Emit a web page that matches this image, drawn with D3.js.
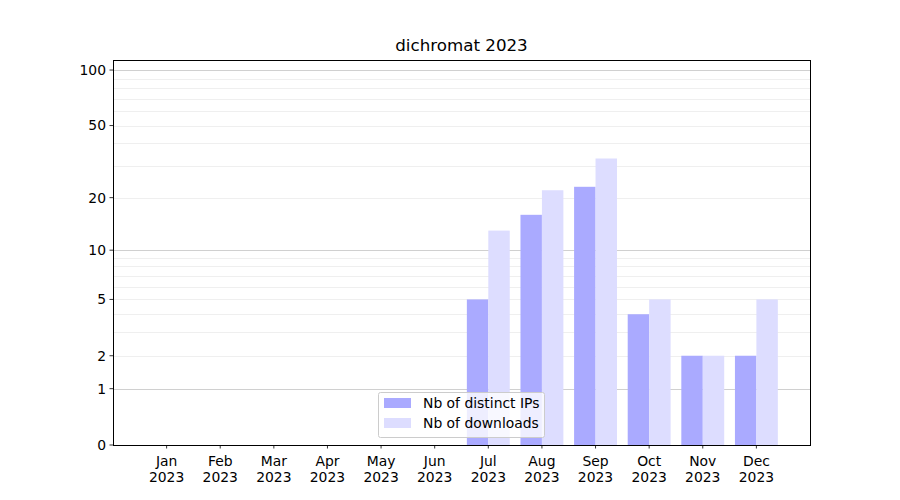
<!DOCTYPE html>
<html><head><meta charset="utf-8">
<script src="https://cdn.jsdelivr.net/npm/d3@7"></script>
<style>body{margin:0;background:#fff;} text{font-family:"DejaVu Sans",sans-serif;}</style>
</head><body><svg id="c" width="900" height="500"></svg>
<script>
const months = ["Jan","Feb","Mar","Apr","May","Jun","Jul","Aug","Sep","Oct","Nov","Dec"];
const year = "2023";
const ips = [0,0,0,0,0,0,5,16,23,4,2,2];
const downloads = [0,0,0,0,0,0,13,22,33,5,2,5];
const yTicks = [0,1,2,5,10,20,50,100];
const majorGrid = [1,10,100];
const minorGrid = [2,3,4,5,6,7,8,9,20,30,40,50,60,70,80,90];
const title = "dichromat 2023";
const seriesNames = ["Nb of distinct IPs","Nb of downloads"];
const colors = ["#aaaaff","#ddddff"];

const L=113,R=810,T=60,B=445;
const svg=d3.select("#c");
const x=d3.scaleLinear().domain([0,13]).range([L,R]);
const tf=v=>Math.log10(v+1);
const ty=d3.scaleLinear().domain([0,2.058]).range([B,T]);
const y=v=>ty(tf(v));

svg.append("g").selectAll("line").data(minorGrid).join("line")
 .attr("x1",L).attr("x2",R).attr("y1",d=>Math.round(y(d))+0.5).attr("y2",d=>Math.round(y(d))+0.5)
 .attr("stroke","#ebebeb").attr("stroke-width",0.8);
svg.append("g").selectAll("line").data(majorGrid).join("line")
 .attr("x1",L).attr("x2",R).attr("y1",d=>Math.round(y(d))+0.5).attr("y2",d=>Math.round(y(d))+0.5)
 .attr("stroke","#c4c4c4").attr("stroke-width",0.8);

const bw=0.4;
svg.append("g").selectAll("rect").data(ips).join("rect")
 .attr("x",(d,i)=>x(i+1-bw)).attr("width",x(bw)-x(0))
 .attr("y",d=>y(d)).attr("height",d=>B-y(d)).attr("fill",colors[0]);
svg.append("g").selectAll("rect").data(downloads).join("rect")
 .attr("x",(d,i)=>x(i+1)).attr("width",x(bw)-x(0))
 .attr("y",d=>y(d)).attr("height",d=>B-y(d)).attr("fill",colors[1]);

svg.append("rect").attr("x",L+0.5).attr("y",T+0.5).attr("width",R-L).attr("height",B-T)
 .attr("fill","none").attr("stroke","#000").attr("stroke-width",1);

const yg=svg.append("g");
yTicks.forEach(t=>{
  const yy=y(t);
  yg.append("line").attr("x1",L-3.5).attr("x2",L).attr("y1",yy).attr("y2",yy).attr("stroke","#000").attr("stroke-width",0.8);
  yg.append("text").attr("x",L-7).attr("y",yy).attr("dy","0.35em").attr("text-anchor","end")
   .attr("font-size","13.9px").text(t);
});
const xg=svg.append("g");
months.forEach((m,i)=>{
  const xx=x(i+1);
  xg.append("line").attr("x1",xx).attr("x2",xx).attr("y1",B).attr("y2",B+3.5).attr("stroke","#000").attr("stroke-width",0.8);
  const t=xg.append("text").attr("x",xx).attr("y",B+21).attr("text-anchor","middle").attr("font-size","13.9px");
  t.append("tspan").attr("x",xx).text(m);
  t.append("tspan").attr("x",xx).attr("dy","15.5px").text(year);
});
svg.append("text").attr("x",(L+R)/2).attr("y",51).attr("text-anchor","middle").attr("font-size","16.7px").text(title);

const lg=svg.append("g");
lg.append("rect").attr("x",378.5).attr("y",392.5).attr("width",166).attr("height",45).attr("rx",2)
 .attr("fill","#fff").attr("fill-opacity",0.8).attr("stroke","#cccccc");
seriesNames.forEach((n,i)=>{
  lg.append("rect").attr("x",384).attr("y",398+i*20).attr("width",27).attr("height",10).attr("fill",colors[i]);
  lg.append("text").attr("x",423).attr("y",403+i*20).attr("dy","0.35em").attr("font-size","13.9px").text(n);
});
</script></body></html>
